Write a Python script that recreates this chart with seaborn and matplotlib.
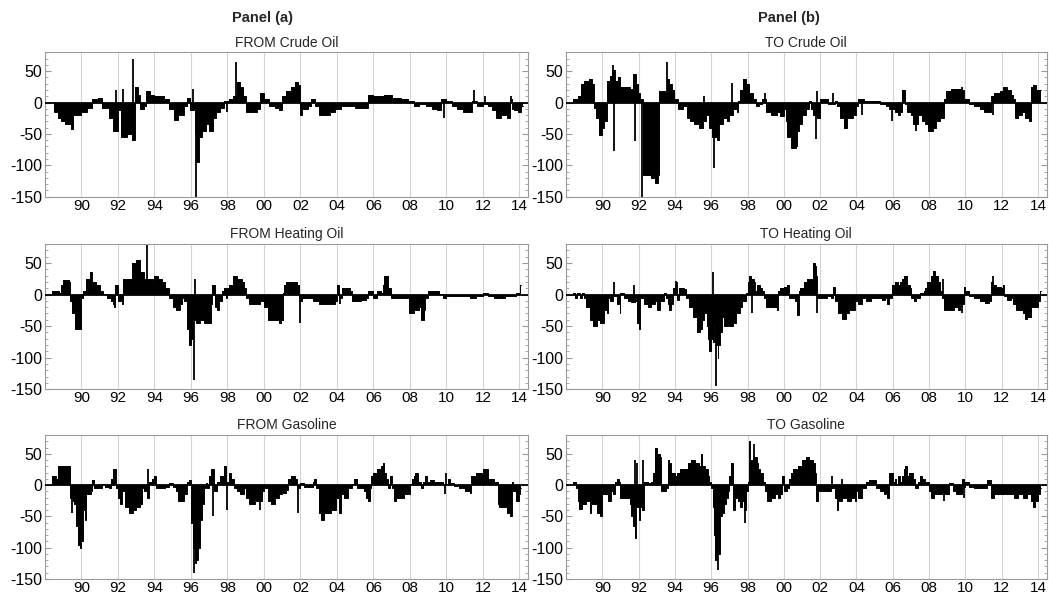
import matplotlib
matplotlib.use("Agg")
import matplotlib.pyplot as plt
import seaborn as sns
import numpy as np
from matplotlib.ticker import FixedLocator, FixedFormatter, MultipleLocator

# ---------------- data ----------------
xtick_years = [1990, 1992, 1994, 1996, 1998, 2000, 2002, 2004, 2006, 2008, 2010, 2012, 2014]
xtick_labels = ["90", "92", "94", "96", "98", "00", "02", "04", "06", "08", "10", "12", "14"]
yticks = [-150, -100, -50, 0, 50]

titles = ["FROM Crude Oil", "TO Crude Oil", "FROM Heating Oil", "TO Heating Oil",
          "FROM Gasoline", "TO Gasoline"]

# FROM Crude Oil
fc_t = [1988.5, 1988.7, 1988.85, 1989.1, 1989.4, 1989.55, 1990.0, 1990.3, 1990.6, 1990.9,
        1991.1, 1991.5, 1991.75, 1992.0, 1992.15, 1992.5, 1992.75, 1992.95, 1993.1, 1993.2,
        1993.45, 1993.55, 1993.75, 1994.0, 1994.5, 1994.8, 1995.05, 1995.3, 1995.6, 1995.8,
        1995.95, 1996.2, 1996.3, 1996.45, 1996.6, 1996.8, 1997.0, 1997.2, 1997.35, 1997.6,
        1997.8, 1998.1, 1998.3, 1998.5, 1998.7, 1998.85, 1999.0, 1999.3, 1999.6, 1999.8,
        2000.0, 2000.3, 2000.6, 2000.8, 2001.0, 2001.2, 2001.5, 2001.7, 2001.85, 2001.95,
        2002.1, 2002.4, 2002.6, 2002.8, 2003.0, 2003.3, 2003.6, 2003.9, 2004.2, 2004.6,
        2005.0, 2005.5, 2005.7, 2006.0, 2006.3, 2006.6, 2007.0, 2007.5, 2007.9, 2008.2,
        2008.5, 2008.9, 2009.2, 2009.5, 2009.7, 2010.0, 2010.3, 2010.6, 2010.9, 2011.1,
        2011.4, 2011.7, 2012.0, 2012.3, 2012.5, 2012.7, 2013.0, 2013.3, 2013.5, 2013.6,
        2013.7, 2013.9, 2014.1, 2014.2]
fc_v = [-15, -25, -30, -35, -42, -20, -15, -8, 5, 8,
        -8, -25, -45, -12, -55, -50, -60, 25, 12, -10,
        -5, 18, 12, 10, 5, -10, -28, -20, -5, 8,
        -12, -50, -95, -55, -45, -35, -45, -25, -15, -8,
        3, 5, 10, 32, 25, 10, -15, -15, -10, 15,
        5, -5, -8, -12, 10, 18, 25, 33, 28, -20,
        -10, -5, 5, -5, -20, -20, -15, -10, -6, -5,
        -8, -8, 12, 10, 10, 12, 8, 5, 2, -5,
        -3, -6, -10, -12, 5, 3, -5, -10, -15, -15,
        2, -5, -3, -5, -12, -25, -20, -25, 5, -10,
        -12, -15, -5, -5]
fc_spike_t = [1991.9, 1992.25, 1992.85, 1996.1, 1996.3, 1998.0, 1998.45, 2009.85, 2011.5, 2012.1, 2013.55]
fc_spike_v = [20, 22, 70, 22, -150, -15, 65, -25, 20, 10, 10]

# TO Crude Oil
tc_t = [1988.4, 1988.65, 1988.8, 1989.0, 1989.25, 1989.45, 1989.55, 1989.65, 1989.8, 1990.0,
        1990.1, 1990.25, 1990.4, 1990.55, 1990.7, 1990.85, 1991.0, 1991.3, 1991.55, 1991.7,
        1991.85, 1991.95, 1992.05, 1992.25, 1992.5, 1992.7, 1992.9, 1993.05, 1993.1, 1993.45,
        1993.55, 1993.7, 1993.85, 1993.95, 1994.15, 1994.45, 1994.65, 1994.85, 1995.05, 1995.3,
        1995.55, 1995.7, 1995.9, 1996.05, 1996.3, 1996.45, 1996.65, 1996.85, 1997.0, 1997.2,
        1997.4, 1997.5, 1997.6, 1997.75, 1997.9, 1998.1, 1998.3, 1998.45, 1998.65, 1998.8,
        1999.0, 1999.3, 1999.6, 1999.8, 2000.0, 2000.1, 2000.2, 2000.4, 2000.65, 2000.75,
        2000.85, 2001.0, 2001.2, 2001.4, 2001.5, 2001.6, 2001.8, 2002.0, 2002.45, 2002.8,
        2002.95, 2003.1, 2003.3, 2003.5, 2003.8, 2004.0, 2004.1, 2004.4, 2004.9, 2005.3,
        2005.65, 2005.8, 2006.1, 2006.3, 2006.4, 2006.5, 2006.65, 2006.8, 2007.0, 2007.1,
        2007.4, 2007.6, 2007.8, 2007.95, 2008.2, 2008.4, 2008.6, 2008.85, 2008.95, 2009.2,
        2009.5, 2009.75, 2009.9, 2010.2, 2010.5, 2010.8, 2011.0, 2011.3, 2011.4, 2011.6,
        2011.9, 2012.05, 2012.3, 2012.5, 2012.65, 2012.75, 2012.9, 2013.1, 2013.3, 2013.5,
        2013.6, 2013.75, 2013.9, 2014.15]
tc_v = [5, 10, 30, 35, 38, 30, -8, -25, -52, -40,
        -30, 35, 42, 52, 35, 40, 25, 25, 22, 45,
        30, 15, 5, -115, -115, -120, -128, -115, 18, 15,
        38, 30, 20, 5, -10, -5, -25, -30, -35, -40,
        -30, -20, -40, -55, -60, -35, -25, -30, -20, -10,
        -15, 2, 20, 38, 30, 15, 5, -5, -3, 5,
        -15, -20, -15, -22, -10, -30, -55, -72, -70, -45,
        -35, -20, -10, 2, -10, -20, -25, 5, -3, 2,
        -5, -25, -40, -25, -20, -5, 5, 2, 3, -3,
        -5, -10, -15, -20, -15, 20, -3, -15, -20, -35,
        -20, -30, -35, -45, -40, -30, -25, 5, 18, 22,
        22, 20, 5, -3, -5, -10, -15, -15, 10, 15,
        18, 25, 20, 12, 5, -25, -20, -15, -25, -30,
        25, 28, 20, 20]
tc_spike_t = [1990.6, 1990.62, 1991.82, 1992.2, 1993.55, 1995.6, 1996.13, 1997.15, 1998.95,
              2001.75, 2001.82, 2002.7, 2004.3, 2005.95, 2007.3, 2009.8, 2011.55]
tc_spike_v = [60, -78, -62, -150, 65, 10, -105, 31, 15, -58, 18, 15, -20, -30, -45, 25, -20]

# FROM Heating Oil
fh_t = [1988.4, 1988.75, 1988.85, 1989.0, 1989.3, 1989.35, 1989.5, 1989.65, 1989.95, 1990.1,
        1990.25, 1990.45, 1990.6, 1990.8, 1991.0, 1991.2, 1991.4, 1991.6, 1991.7, 1991.8,
        1991.85, 1992.0, 1992.2, 1992.3, 1992.75, 1993.0, 1993.2, 1993.45, 1993.75, 1993.9,
        1994.0, 1994.2, 1994.4, 1994.6, 1994.8, 1995.0, 1995.2, 1995.4, 1995.5, 1995.6,
        1995.8, 1995.9, 1996.0, 1996.1, 1996.3, 1996.5, 1996.7, 1996.9, 1997.1, 1997.15,
        1997.3, 1997.4, 1997.55, 1997.7, 1997.8, 1997.9, 1998.0, 1998.1, 1998.3, 1998.5,
        1998.8, 1998.9, 1999.0, 1999.2, 1999.5, 1999.8, 2000.0, 2000.2, 2000.5, 2000.8,
        2000.95, 2001.05, 2001.1, 2001.2, 2001.8, 2001.9, 2002.1, 2002.7, 2003.0, 2003.9,
        2004.0, 2004.1, 2004.3, 2004.7, 2004.8, 2005.3, 2005.6, 2005.7, 2006.0, 2006.2,
        2006.4, 2006.5, 2006.6, 2006.8, 2006.95, 2007.9, 2007.95, 2008.2, 2008.5, 2008.6,
        2008.75, 2008.85, 2009.0, 2009.6, 2009.8, 2010.0, 2010.4, 2011.0, 2011.3, 2011.6,
        2012.0, 2012.3, 2012.6, 2013.2, 2013.8, 2014.05, 2014.1]
fh_v = [5, 3, 15, 23, 20, -10, -30, -55, -5, 5,
        25, 35, 20, 15, 5, 1, -5, -10, -15, -20,
        15, -10, -15, 25, 50, 55, 35, 25, 25, 15,
        30, 25, 20, 10, -5, -20, -25, -15, -5, -10,
        -55, -80, -70, -40, -45, -40, -45, -45, -15, 15,
        -20, -25, -10, 5, 10, -5, 10, 15, 30, 25,
        20, 10, -5, -15, -15, -10, -20, -40, -40, -45,
        -40, 2, 15, 20, 15, -10, -5, -10, -15, -10,
        15, -5, 10, 5, -10, -8, -5, 5, -5, 5,
        2, 15, 30, 10, -5, -5, -30, -25, -20, -40,
        -25, -5, 5, 1, -5, -2, -3, -3, -5, -2,
        2, -3, -5, -3, 3, 15, 15]
fh_spike_t = [1993.6, 1996.15, 1996.2, 2001.95, 2004.15]
fh_spike_v = [80, -135, 25, -45, -15]

# TO Heating Oil
th_t = [1988.4, 1988.5, 1988.6, 1988.75, 1988.9, 1989.0, 1989.1, 1989.3, 1989.5, 1989.7,
        1989.9, 1990.1, 1990.25, 1990.3, 1990.4, 1990.6, 1990.8, 1990.95, 1991.0, 1991.2,
        1991.4, 1991.6, 1991.8, 1991.9, 1992.0, 1992.1, 1992.3, 1992.5, 1992.7, 1992.9,
        1993.0, 1993.2, 1993.4, 1993.5, 1993.6, 1993.7, 1993.8, 1993.85, 1993.9, 1994.05,
        1994.1, 1994.2, 1994.5, 1994.6, 1994.8, 1995.0, 1995.2, 1995.4, 1995.5, 1995.6,
        1995.75, 1995.85, 1995.9, 1996.0, 1996.1, 1996.15, 1996.2, 1996.35, 1996.4, 1996.5,
        1996.6, 1996.7, 1996.9, 1997.0, 1997.2, 1997.35, 1997.6, 1997.7, 1997.9, 1998.0,
        1998.1, 1998.2, 1998.35, 1998.5, 1998.7, 1998.8, 1998.9, 1999.0, 1999.6, 1999.7,
        1999.8, 2000.0, 2000.15, 2000.3, 2000.6, 2000.75, 2000.85, 2000.9, 2001.1, 2001.3,
        2001.6, 2001.7, 2001.75, 2001.85, 2002.2, 2002.4, 2002.6, 2002.7, 2002.8, 2003.0,
        2003.2, 2003.4, 2003.6, 2003.9, 2004.1, 2004.3, 2004.5, 2004.8, 2005.4, 2005.6,
        2005.7, 2005.8, 2005.95, 2006.1, 2006.3, 2006.4, 2006.5, 2006.6, 2006.8, 2006.95,
        2007.0, 2007.15, 2007.3, 2007.5, 2007.7, 2007.8, 2007.9, 2008.1, 2008.2, 2008.35,
        2008.5, 2008.6, 2008.7, 2008.85, 2009.4, 2009.6, 2009.7, 2009.9, 2010.0, 2010.2,
        2010.5, 2010.8, 2011.1, 2011.3, 2011.4, 2011.5, 2011.7, 2011.95, 2012.1, 2012.15,
        2012.3, 2012.5, 2012.6, 2012.8, 2013.2, 2013.3, 2013.4, 2013.6, 2014.0, 2014.1,
        2014.15]
th_v = [3, -5, 3, -5, 3, -5, -20, -40, -50, -40,
        -45, -25, -30, -5, -10, -2, -15, -30, 3, -5,
        -10, -12, -10, -45, -55, -5, -15, -20, -15, -10,
        -25, -10, 3, -5, -15, -25, -5, -15, 10, 20,
        -8, 10, 8, -5, -20, -35, -60, -55, -40, -30,
        -50, -70, -90, -70, -75, -50, -80, -100, -80, -60,
        -35, -50, -40, -50, -45, -30, -20, -10, 2, 20,
        30, 25, 5, 15, 10, 5, -5, -20, -25, 5,
        10, 12, 15, -5, -10, -32, 5, 10, 20, 25,
        50, 45, 30, -5, -5, -3, -5, 12, -10, -30,
        -38, -30, -25, -10, -15, -5, -10, -5, -8, -5,
        -15, -5, 15, 20, 15, 20, 25, 30, 15, 10,
        -5, -10, -5, 3, 5, 10, 20, 30, 38, 30,
        20, 5, -5, -25, -20, -25, -15, 12, 5, -3,
        -5, -10, -13, -10, 20, 15, 12, 10, 15, -3,
        -8, -5, -15, -25, -30, -38, -35, -20, -10, 5,
        5]
th_spike_t = [1990.65, 1991.75, 1994.05, 1996.1, 1996.25, 1998.25, 1998.4, 2001.8, 2008.75, 2009.8, 2011.55]
th_spike_v = [20, 15, 22, 35, -145, -30, 20, -30, 25, -30, 30]

# FROM Gasoline
fg_t = [1988.4, 1988.6, 1988.7, 1989.35, 1989.55, 1989.6, 1989.7, 1989.8, 1989.9, 1990.0,
        1990.1, 1990.2, 1990.25, 1990.5, 1990.6, 1990.7, 1991.1, 1991.3, 1991.5, 1991.6,
        1991.75, 1991.9, 1992.0, 1992.1, 1992.2, 1992.4, 1992.6, 1992.8, 1993.0, 1993.2,
        1993.3, 1993.4, 1993.6, 1993.7, 1993.85, 1994.0, 1994.1, 1994.6, 1994.8, 1995.0,
        1995.2, 1995.3, 1995.6, 1995.8, 1995.9, 1996.0, 1996.1, 1996.2, 1996.3, 1996.4,
        1996.5, 1996.6, 1996.7, 1996.8, 1996.9, 1997.0, 1997.1, 1997.25, 1997.4, 1997.6,
        1997.8, 1997.9, 1998.1, 1998.2, 1998.35, 1998.5, 1998.7, 1998.9, 1999.0, 1999.2,
        1999.5, 1999.9, 2000.0, 2000.2, 2000.4, 2000.6, 2000.8, 2001.0, 2001.2, 2001.3,
        2001.5, 2001.7, 2001.8, 2002.0, 2002.2, 2002.7, 2002.75, 2002.85, 2003.0, 2003.1,
        2003.3, 2003.7, 2003.95, 2004.1, 2004.2, 2004.4, 2004.6, 2004.8, 2004.95, 2005.1,
        2005.5, 2005.6, 2005.7, 2005.8, 2005.85, 2006.0, 2006.2, 2006.4, 2006.5, 2006.6,
        2006.7, 2006.8, 2006.9, 2007.0, 2007.1, 2007.25, 2007.7, 2008.0, 2008.1, 2008.2,
        2008.3, 2008.45, 2008.6, 2008.7, 2008.8, 2008.95, 2009.1, 2009.3, 2009.8, 2010.1,
        2010.2, 2010.4, 2010.7, 2011.0, 2011.3, 2011.35, 2011.6, 2012.0, 2012.3, 2012.6,
        2012.8, 2012.9, 2013.3, 2013.5, 2013.6, 2013.65, 2013.8, 2014.0, 2014.05, 2014.1]
fg_v = [15, 10, 30, -20, -25, -30, -65, -95, -100, -90,
        -40, -55, -15, -10, 8, -5, 2, -3, -5, 10,
        25, -5, -20, -30, -10, -35, -44, -40, -35, -30,
        -5, -10, -20, 5, 10, 15, -5, -3, 3, -3,
        -10, -25, -15, 5, 8, -60, -100, -125, -120, -100,
        -55, -30, -5, 3, -5, 15, 25, -10, 5, 15,
        30, 5, 20, 10, -5, -10, -15, -5, -20, -30,
        -25, -10, -5, -25, -30, -20, -15, -12, -8, 10,
        15, 10, -5, 3, -3, 5, 10, -5, -45, -55,
        -45, -40, -20, -45, -15, -20, -5, 2, 10, -5,
        -10, -20, -25, -5, 15, 20, 25, 30, 35, 20,
        10, -5, 15, -5, -25, -20, -15, 2, 10, 15,
        20, 5, -5, 5, 15, 5, 8, 5, 2, 10,
        3, -2, -5, -10, -13, 15, 20, 25, 10, 5,
        -30, -35, -45, -50, 5, -10, -25, -15, -5, -5]
fg_spike_t = [1989.5, 1993.65, 1996.15, 1997.2, 1997.95, 1999.8, 2001.85, 2009.9, 2009.95]
fg_spike_v = [-45, 25, -140, -50, -40, -40, -45, -15, 20]

# TO Gasoline
tg_t = [1988.4, 1988.55, 1988.65, 1988.7, 1988.9, 1989.1, 1989.3, 1989.4, 1989.7, 1989.9,
        1990.0, 1990.3, 1990.5, 1990.6, 1990.7, 1990.8, 1990.9, 1991.0, 1991.5, 1991.6,
        1991.7, 1991.8, 1991.85, 1992.0, 1992.1, 1992.2, 1992.3, 1992.5, 1992.7, 1992.8,
        1992.9, 1993.0, 1993.2, 1993.25, 1993.5, 1993.6, 1993.7, 1993.8, 1994.0, 1994.1,
        1994.3, 1994.6, 1994.7, 1994.9, 1995.1, 1995.3, 1995.45, 1995.5, 1995.65, 1995.8,
        1995.9, 1996.0, 1996.1, 1996.15, 1996.2, 1996.3, 1996.4, 1996.5, 1996.6, 1996.7,
        1996.8, 1996.9, 1997.0, 1997.1, 1997.2, 1997.3, 1997.5, 1997.6, 1997.7, 1997.8,
        1997.9, 1998.05, 1998.1, 1998.15, 1998.3, 1998.5, 1998.6, 1998.7, 1998.85, 1998.95,
        1999.1, 1999.3, 1999.5, 1999.7, 1999.8, 1999.9, 2000.0, 2000.2, 2000.3, 2000.4,
        2000.5, 2000.7, 2000.8, 2001.0, 2001.2, 2001.4, 2001.6, 2001.7, 2001.75, 2001.9,
        2002.6, 2002.8, 2002.95, 2003.0, 2003.2, 2003.5, 2003.7, 2003.9, 2004.0, 2004.1,
        2004.3, 2004.5, 2004.7, 2005.1, 2005.3, 2005.5, 2005.7, 2005.8, 2006.0, 2006.1,
        2006.2, 2006.3, 2006.4, 2006.5, 2006.6, 2006.7, 2006.8, 2006.9, 2007.1, 2007.25,
        2007.4, 2007.5, 2007.6, 2007.8, 2008.0, 2008.1, 2008.3, 2008.7, 2008.8, 2009.1,
        2009.3, 2009.5, 2009.8, 2009.95, 2010.0, 2010.2, 2010.5, 2011.2, 2011.4, 2011.6,
        2012.7, 2012.9, 2013.2, 2013.4, 2013.6, 2013.7, 2013.85, 2014.0, 2014.1, 2014.15]
tg_v = [5, -5, -25, -38, -30, -25, -45, -30, -45, -50,
        -15, -25, -10, -15, 5, 10, 5, -20, -30, -50,
        -65, -85, -35, -55, -35, -40, 5, 3, 5, 20,
        60, 50, 45, -10, -5, 40, 35, 20, 15, 20,
        25, 25, 35, 40, 35, 30, 50, 30, 25, 15,
        5, -5, -35, -80, -120, -60, -110, -50, -45, -30,
        -20, -10, 15, 35, -40, -20, -25, -35, -25, -40,
        -10, 5, 70, 40, 45, 35, 25, 20, 5, -10,
        -25, -20, -15, -20, -15, 15, -10, -5, 10, 20,
        25, 20, 30, 40, 45, 40, 35, 20, -25, -10,
        -5, -20, -40, -25, -20, -25, -20, -25, -10, -20,
        -5, 5, 8, -5, -10, -15, -20, 20, 5, 10,
        2, 15, 5, 15, 25, 30, 15, 20, 10, -5,
        5, 15, 10, 5, -10, -20, -15, -10, -15, 3,
        -10, -15, 10, -3, 5, -3, -5, 8, -20, -15,
        -20, -15, -20, -15, -25, -35, -25, -15, -5, -5]
tg_spike_t = [1991.8, 1991.9, 1992.25, 1996.35, 1997.85, 1998.35, 2002.65, 2003.2, 2008.8, 2009.95]
tg_spike_v = [40, 35, 40, -135, -60, 65, 15, 10, -25, -20]

series = [
    (fc_t, fc_v, fc_spike_t, fc_spike_v),
    (tc_t, tc_v, tc_spike_t, tc_spike_v),
    (fh_t, fh_v, fh_spike_t, fh_spike_v),
    (th_t, th_v, th_spike_t, th_spike_v),
    (fg_t, fg_v, fg_spike_t, fg_spike_v),
    (tg_t, tg_v, tg_spike_t, tg_spike_v),
]

# ---------------- styling ----------------
sns.set_style("ticks")
plt.rcParams["font.family"] = ["Liberation Sans", "DejaVu Sans"]
plt.rcParams["axes.unicode_minus"] = False

W, H = 1049, 597
fig = plt.figure(figsize=(W / 100, H / 100), dpi=100)

col_x = [(45, 528), (566, 1046.5)]
row_y = [(52.3, 196.7), (244, 389.3), (435, 579)]

frame_col = "#9a9a9a"
for i, (t, v, st, sv) in enumerate(series):
    r, c = divmod(i, 2)
    x0, x1 = col_x[c]
    y0, y1 = row_y[r]
    ax = fig.add_axes([x0 / W, 1 - y1 / H, (x1 - x0) / W, (y1 - y0) / H])
    tt = np.array(t, dtype=float)
    vv = np.array(v, dtype=float)
    ax.fill_between(tt, vv, 0, step="post", color="black", lw=0)
    sns.lineplot(x=tt, y=vv, drawstyle="steps-post", color="black", lw=0.7, ax=ax,
                 estimator=None, sort=False)
    ax.vlines(st, 0, sv, color="black", lw=1.3)
    ax.axhline(0, color="black", lw=1.3, zorder=3)

    ax.set_xlim(1988.0, 2014.47)
    ax.set_ylim(-150, 80)
    ax.xaxis.set_major_locator(FixedLocator(xtick_years))
    ax.xaxis.set_major_formatter(FixedFormatter(xtick_labels))
    ax.set_yticks(yticks)
    ax.yaxis.set_minor_locator(MultipleLocator(10))
    ax.grid(axis="x", color="#d4d4d4", lw=0.8)
    ax.set_axisbelow(True)
    for s in ax.spines.values():
        s.set_color(frame_col)
        s.set_linewidth(0.8)
    ax.tick_params(axis="both", which="both", direction="in", colors=frame_col,
                   labelcolor="black", labelsize=11.5, right=True)
    ax.tick_params(axis="x", which="major", length=0, pad=1.5, labelsize=11)
    ax.tick_params(axis="y", which="major", length=4, pad=2)
    ax.tick_params(axis="y", which="minor", length=2)
    ax.set_xlabel("")
    ax.set_ylabel("")
    ax.set_title(titles[i], fontsize=10, pad=4)

fig.text(262 / W, 1 - 18 / H, "Panel (a)", ha="center", va="center",
         fontsize=10.5, fontweight="bold")
fig.text(789 / W, 1 - 18 / H, "Panel (b)", ha="center", va="center",
         fontsize=10.5, fontweight="bold")

fig.savefig("out.png", dpi=100)
